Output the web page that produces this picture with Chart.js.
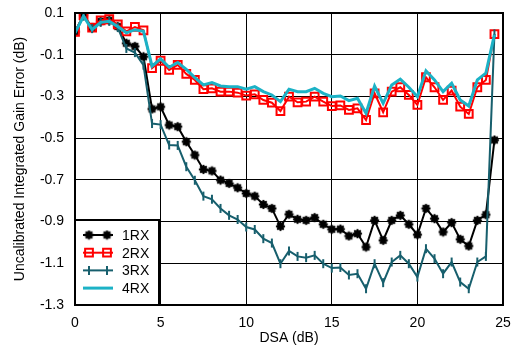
<!DOCTYPE html>
<html>
<head>
<meta charset="utf-8">
<script src="https://cdn.jsdelivr.net/npm/chart.js@4.4.1/dist/chart.umd.min.js"></script>
<style>
  html, body { margin: 0; padding: 0; background: #fff; }
  #wrap { width: 511px; height: 347px; }
</style>
</head>
<body>
<div id="wrap"><canvas id="gainError" width="511" height="347"></canvas></div>
<script>
// DSA attenuation steps (dB)
const dsa = [0, 0.5, 1, 1.5, 2, 2.5, 3, 3.5, 4, 4.5, 5, 5.5, 6, 6.5, 7, 7.5, 8, 8.5, 9, 9.5,
  10, 10.5, 11, 11.5, 12, 12.5, 13, 13.5, 14, 14.5, 15, 15.5, 16, 16.5, 17, 17.5, 18, 18.5, 19, 19.5,
  20, 20.5, 21, 21.5, 22, 22.5, 23, 23.5, 24, 24.5];

const rx1 = [0.01, 0.09, 0.03, 0.06, 0.065, 0.035, -0.045, -0.06, -0.11, -0.36,
  -0.35, -0.437, -0.445, -0.517, -0.581, -0.65, -0.657, -0.701, -0.717, -0.738,
  -0.765, -0.778, -0.818, -0.837, -0.923, -0.865, -0.889, -0.894, -0.881, -0.913,
  -0.937, -0.936, -0.969, -0.958, -1.022, -0.894, -0.99, -0.894, -0.87, -0.913,
  -0.963, -0.837, -0.886, -0.95, -0.905, -0.985, -1.017, -0.894, -0.867, -0.509];

const rx2 = [0.01, 0.09, 0.03, 0.065, 0.07, 0.045, 0.012, 0.033, 0.017, -0.164,
  -0.129, -0.173, -0.149, -0.192, -0.221, -0.265, -0.261, -0.277, -0.277, -0.282,
  -0.296, -0.29, -0.317, -0.33, -0.37, -0.301, -0.328, -0.325, -0.301, -0.325,
  -0.346, -0.343, -0.365, -0.357, -0.413, -0.285, -0.376, -0.277, -0.256, -0.293,
  -0.341, -0.208, -0.256, -0.317, -0.272, -0.349, -0.384, -0.256, -0.221, -0.001];

const rx3 = [0.0, 0.085, 0.025, 0.055, 0.06, 0.03, -0.07, -0.09, -0.15, -0.43,
  -0.435, -0.533, -0.535, -0.637, -0.702, -0.778, -0.793, -0.837, -0.87, -0.89,
  -0.926, -0.938, -0.982, -1.003, -1.102, -1.041, -1.067, -1.073, -1.062, -1.102,
  -1.123, -1.12, -1.156, -1.15, -1.222, -1.102, -1.193, -1.094, -1.062, -1.102,
  -1.166, -1.03, -1.078, -1.15, -1.094, -1.19, -1.222, -1.094, -1.067, 0.0];

const rx4 = [0.005, 0.085, 0.02, 0.055, 0.06, 0.035, 0.005, 0.02, 0.012, -0.155,
  -0.12, -0.16, -0.137, -0.17, -0.21, -0.245, -0.234, -0.25, -0.253, -0.253,
  -0.265, -0.253, -0.277, -0.293, -0.325, -0.265, -0.277, -0.277, -0.261, -0.285,
  -0.301, -0.298, -0.32, -0.309, -0.381, -0.25, -0.333, -0.245, -0.217, -0.256,
  -0.301, -0.177, -0.221, -0.277, -0.237, -0.317, -0.346, -0.221, -0.188, -0.004];

const xTicks = [0, 5, 10, 15, 20, 25];
const yTicks = [-1.3, -1.1, -0.9, -0.7, -0.5, -0.3, -0.1, 0.1];

const FONT = "'Liberation Sans', Arial, Helvetica, sans-serif";

// filled blob with short spikes, like the 1RX marker
function starMarker() {
  const c = document.createElement('canvas');
  c.width = 11; c.height = 11;
  const g = c.getContext('2d');
  g.fillStyle = '#000';
  g.strokeStyle = '#000';
  g.beginPath();
  g.arc(5.5, 5.5, 3.4, 0, Math.PI * 2);
  g.fill();
  g.lineWidth = 2;
  for (let i = 0; i < 4; i++) {
    const a = i * Math.PI / 4;
    g.beginPath();
    g.moveTo(5.5 - Math.cos(a) * 4.6, 5.5 - Math.sin(a) * 4.6);
    g.lineTo(5.5 + Math.cos(a) * 4.6, 5.5 + Math.sin(a) * 4.6);
    g.stroke();
  }
  return c;
}

const toPoints = (ys) => dsa.map((x, i) => ({ x: x, y: ys[i] }));

const datasets = [
  {
    label: '1RX', data: toPoints(rx1), order: 4,
    borderColor: '#000', backgroundColor: '#000', borderWidth: 2,
    pointStyle: starMarker(), pointRadius: 5
  },
  {
    label: '2RX', data: toPoints(rx2), order: 3,
    borderColor: '#ff0000', backgroundColor: 'rgba(0,0,0,0)', borderWidth: 2,
    pointStyle: 'rect', pointRadius: 5.5, pointBorderWidth: 2
  },
  {
    label: '3RX', data: toPoints(rx3), order: 2,
    borderColor: '#175f6d', backgroundColor: '#175f6d', borderWidth: 2,
    pointStyle: 'line', pointRotation: 90, pointRadius: 4.5, pointBorderWidth: 2
  },
  {
    label: '4RX', data: toPoints(rx4), order: 1,
    borderColor: '#1cb2c6', backgroundColor: '#1cb2c6', borderWidth: 3,
    pointRadius: 0
  }
];

// frame round the plot and the boxed legend in the lower left corner
const frameAndLegend = {
  id: 'frameAndLegend',
  afterDatasetsDraw(chart) {
    const ctx = chart.ctx;
    const a = chart.chartArea;
    ctx.save();
    const bx = a.left, by = 220, bw = 84, bh = a.bottom - 220;
    ctx.fillStyle = '#fff';
    ctx.fillRect(bx, by, bw, bh);
    ctx.strokeStyle = '#000';
    ctx.lineWidth = 2;
    ctx.strokeRect(bx, by, bw, bh);

    ctx.font = '14px ' + FONT;
    ctx.textBaseline = 'middle';
    ctx.textAlign = 'left';
    chart.data.datasets.forEach((ds, i) => {
      const y = 235 + i * 17.7;
      ctx.strokeStyle = ds.borderColor;
      ctx.lineWidth = ds.borderWidth;
      ctx.beginPath();
      ctx.moveTo(83, y);
      ctx.lineTo(113, y);
      ctx.stroke();
      if (ds.pointRadius > 0) {
        [89, 107].forEach(px => {
          ctx.lineWidth = ds.pointBorderWidth || 1;
          ctx.fillStyle = ds.backgroundColor;
          Chart.helpers.drawPoint(ctx, {
            pointStyle: ds.pointStyle, radius: ds.pointRadius,
            rotation: ds.pointRotation || 0, borderWidth: ds.pointBorderWidth || 1
          }, px, y);
        });
      }
      ctx.fillStyle = '#000';
      ctx.fillText(ds.label, 122, y + 1);
    });

    ctx.strokeStyle = '#000';
    ctx.lineWidth = 2;
    ctx.strokeRect(a.left, a.top, a.right - a.left, a.bottom - a.top);
    ctx.restore();
  }
};

new Chart(document.getElementById('gainError'), {
  type: 'line',
  data: { datasets: datasets },
  options: {
    responsive: false,
    animation: false,
    layout: { padding: { top: 13, right: 8, left: 0, bottom: 0 } },
    plugins: { legend: { display: false }, tooltip: { enabled: false } },
    elements: { line: { tension: 0 } },
    scales: {
      x: {
        type: 'linear', min: 0, max: 25,
        afterFit: (s) => { s.height = 42; s.paddingLeft = 0; s.paddingRight = 0; },
        afterBuildTicks: (s) => { s.ticks = xTicks.map(v => ({ value: v })); },
        grid: { color: '#000', lineWidth: 1, drawTicks: false },
        border: { color: '#000', width: 2 },
        ticks: { color: '#000', padding: 10, font: { family: FONT, size: 14 }, maxRotation: 0 },
        title: { display: true, text: 'DSA (dB)', color: '#000', padding: { top: 2, bottom: 0 },
          font: { family: FONT, size: 14 } }
      },
      y: {
        type: 'linear', min: -1.3, max: 0.1,
        afterFit: (s) => { s.width = 75; s.paddingTop = 0; s.paddingBottom = 0; },
        afterBuildTicks: (s) => { s.ticks = yTicks.map(v => ({ value: v })); },
        grid: { color: '#000', lineWidth: 1, drawTicks: false },
        border: { color: '#000', width: 2 },
        ticks: { color: '#000', padding: 11, font: { family: FONT, size: 14 },
          callback: (v) => v.toFixed(1) },
        title: { display: true, text: 'Uncalibrated Integrated Gain Error (dB)', color: '#000',
          padding: { top: 12, bottom: 0 }, font: { family: FONT, size: 14 } }
      }
    }
  },
  plugins: [frameAndLegend]
});
</script>
</body>
</html>
